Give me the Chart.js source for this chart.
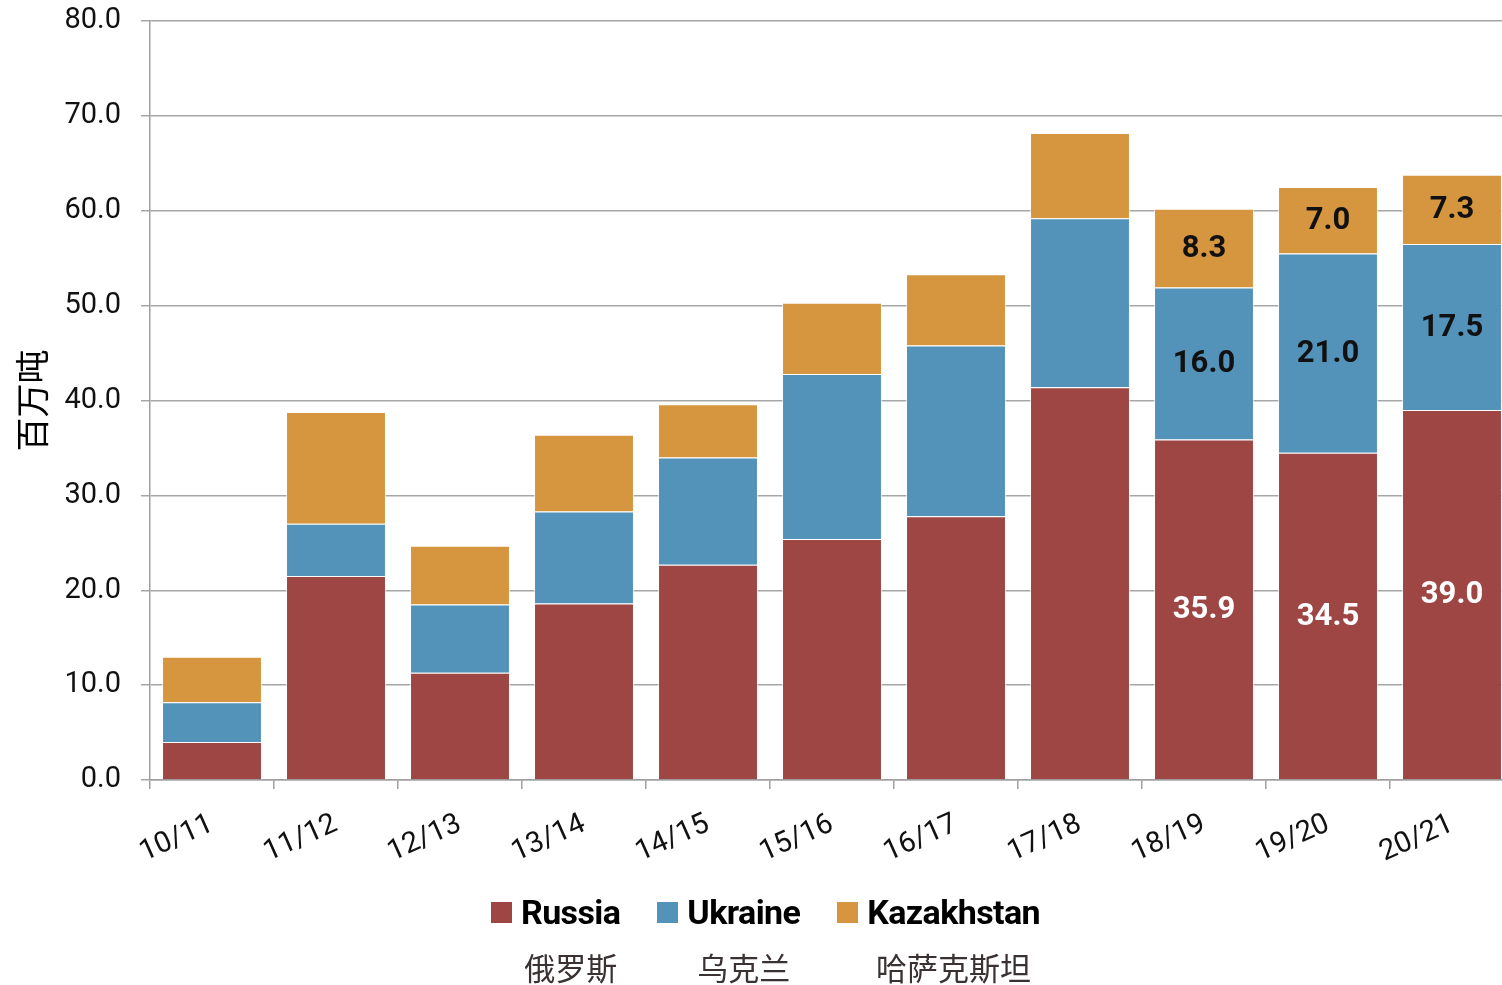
<!DOCTYPE html>
<html>
<head>
<meta charset="utf-8">
<script src="https://cdn.jsdelivr.net/npm/chart.js@4.4.1/dist/chart.umd.min.js"></script>
<style>
  html, body { margin: 0; padding: 0; background: #fff; overflow: hidden; }
  #wrap { position: relative; width: 1514px; height: 985px; }
  #legend {
    position: absolute; left: 491px; top: 888px;
    display: flex; align-items: flex-start;
    font-family: Roboto, "Noto Sans", sans-serif;
  }
  .item { display: flex; align-items: flex-start; margin-right: 37px; }
  .box { width: 21px; height: 21px; margin-top: 14px; margin-right: 9px; }
  .txt { display: flex; flex-direction: column; align-items: center; }
  .en { font-weight: 700; font-size: 34px; line-height: 48px; color: #000; letter-spacing: -0.6px; }
  .zh { font-family: "Noto Sans CJK SC", sans-serif; font-size: 31px; line-height: 40px; color: #3a3232; margin-top: 11px; }
</style>
</head>
<body>
<div id="wrap">
  <canvas id="chart" width="1514" height="985"></canvas>
  <div id="legend"></div>
</div>
<script>
const seasons = ['10/11', '11/12', '12/13', '13/14', '14/15', '15/16', '16/17', '17/18', '18/19', '19/20', '20/21'];
const russia = [4.0, 21.5, 11.3, 18.6, 22.7, 25.4, 27.8, 41.4, 35.9, 34.5, 39.0];
const ukraine = [4.2, 5.5, 7.2, 9.7, 11.3, 17.4, 18.0, 17.8, 16.0, 21.0, 17.5];
const kazakhstan = [4.8, 11.8, 6.2, 8.1, 5.6, 7.5, 7.5, 9.0, 8.3, 7.0, 7.3];
const seriesNames = ['Russia', 'Ukraine', 'Kazakhstan'];
const seriesNamesZh = ['俄罗斯', '乌克兰', '哈萨克斯坦'];
const seriesColors = ['#9e4643', '#5393b9', '#d5963f'];
const labelledSeasons = ['18/19', '19/20', '20/21'];

const valueLabels = {
  id: 'valueLabels',
  afterDatasetsDraw(chart) {
    const ctx = chart.ctx;
    ctx.save();
    ctx.font = 'bold 31px Roboto, sans-serif';
    ctx.textAlign = 'center';
    ctx.textBaseline = 'middle';
    chart.data.datasets.forEach((ds, di) => {
      const meta = chart.getDatasetMeta(di);
      meta.data.forEach((bar, i) => {
        if (!labelledSeasons.includes(seasons[i])) return;
        const p = bar.getProps(['x', 'y', 'base'], true);
        ctx.fillStyle = di === 0 ? '#ffffff' : '#111111';
        ctx.fillText(ds.data[i].toFixed(1), p.x, (p.y + p.base) / 2 + 1);
      });
    });
    ctx.restore();
  }
};

const tickFont = { family: 'Roboto, sans-serif', size: 29 };

new Chart(document.getElementById('chart'), {
  type: 'bar',
  data: {
    labels: seasons,
    datasets: [russia, ukraine, kazakhstan].map((d, i) => ({
      label: seriesNames[i],
      data: d,
      backgroundColor: seriesColors[i],
      borderColor: 'rgba(255,255,255,0.7)',
      borderWidth: 1,
      barPercentage: 0.806,
      categoryPercentage: 1
    }))
  },
  options: {
    responsive: false,
    animation: false,
    layout: { padding: { top: 21, bottom: 105, left: 0, right: 0 } },
    plugins: {
      legend: { display: false },
      tooltip: { enabled: false }
    },
    scales: {
      x: {
        stacked: true,
        afterFit(scale) { scale.height = 100; },
        grid: { drawOnChartArea: false, drawTicks: true, tickLength: 9, color: '#a0a0a0', lineWidth: 1.5, offset: true },
        border: { color: '#a0a0a0', width: 1.5 },
        ticks: { color: '#111', font: tickFont, minRotation: 24, maxRotation: 24, padding: 18, autoSkip: false }
      },
      y: {
        stacked: true,
        min: 0,
        max: 80,
        afterFit(scale) {
          scale.width = 150;
          scale.paddingTop = 0;
          scale.paddingBottom = 0;
        },
        grid: { color: '#a6a6a6', lineWidth: 1.5, tickLength: 9 },
        border: { color: '#a0a0a0', width: 1.5 },
        ticks: {
          stepSize: 10,
          color: '#111',
          font: tickFont,
          padding: 20,
          callback: v => v.toFixed(1)
        },
        title: {
          display: true,
          text: '百万吨',
          color: '#000',
          font: { family: '"Noto Sans CJK SC", sans-serif', size: 34 },
          padding: { top: 12, bottom: 0 }
        }
      }
    }
  },
  plugins: [valueLabels]
});

const legend = document.getElementById('legend');
seriesNames.forEach((name, i) => {
  const item = document.createElement('div');
  item.className = 'item';
  item.innerHTML = '<div class="box" style="background:' + seriesColors[i] + '"></div>' +
    '<div class="txt"><div class="en">' + name + '</div><div class="zh">' + seriesNamesZh[i] + '</div></div>';
  legend.appendChild(item);
});
</script>
</body>
</html>
